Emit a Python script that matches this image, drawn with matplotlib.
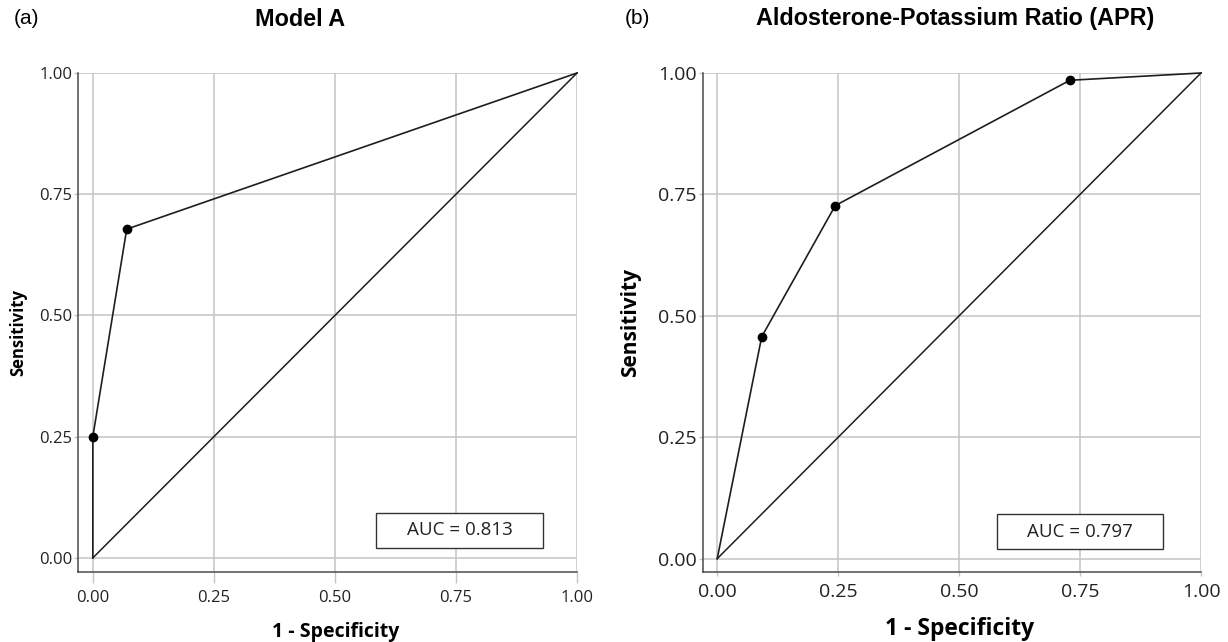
import matplotlib
matplotlib.use("Agg")
import matplotlib.pyplot as plt
from matplotlib.patches import Rectangle

# ---- data ----
fpr_a = [0.0, 0.0, 0.070, 1.0]
tpr_a = [0.0, 0.25, 0.678, 1.0]
mark_a_x = [0.0, 0.070]
mark_a_y = [0.25, 0.678]
auc_a = "AUC = 0.813"

fpr_b = [0.0, 0.092, 0.244, 0.729, 1.0]
tpr_b = [0.0, 0.457, 0.727, 0.985, 1.0]
mark_b_x = [0.092, 0.244, 0.729]
mark_b_y = [0.457, 0.727, 0.985]
auc_b = "AUC = 0.797"

ticks = [0.0, 0.25, 0.50, 0.75, 1.0]
tick_labels = ["0.00", "0.25", "0.50", "0.75", "1.00"]

W, H = 1228, 642
fig = plt.figure(figsize=(W / 100, H / 100), dpi=100)
fig.patch.set_facecolor("white")

def px_axes(l, r, t, b):
    return fig.add_axes([l / W, 1 - b / H, (r - l) / W, (b - t) / H])

GRID = "#c4c4c4"
SPINE = "#4a4a4a"
LINE = "#1e1e1e"

def setup(ax, fpr, tpr, mx, my, auc, box, tick_fs, xlab_fs, ylab_fs, auc_fs,
          ylab_xy, xlab_xy, xtick_len, xpad):
    ax.set_xlim(-0.030, 1.0)
    ax.set_ylim(-0.028, 1.0)
    ax.set_xticks(ticks)
    ax.set_yticks(ticks)
    ax.set_xticklabels(tick_labels, family="Open Sans", fontsize=tick_fs, color="#222222")
    ax.set_yticklabels(tick_labels, family="Open Sans", fontsize=tick_fs, color="#222222")
    ax.grid(True, color=GRID, linewidth=1.1)
    ax.set_axisbelow(True)
    for s in ["top", "right"]:
        ax.spines[s].set_visible(False)
    for s in ["left", "bottom"]:
        ax.spines[s].set_color(SPINE)
        ax.spines[s].set_linewidth(1.1)
    ax.tick_params(axis="x", length=xtick_len, width=1.0, color=GRID, pad=xpad)
    ax.tick_params(axis="y", length=3, width=1.0, color=GRID, pad=1.5)
    ax.plot([0, 1], [0, 1], color=LINE, linewidth=1.1, clip_on=False, zorder=3)
    ax.plot(fpr, tpr, color=LINE, linewidth=1.2, clip_on=False, zorder=4)
    ax.plot(mx, my, "o", color="black", markersize=6, clip_on=False, zorder=5)
    x0, x1, y0, y1 = box
    ax.add_patch(Rectangle((x0, y0), x1 - x0, y1 - y0, fill=True, facecolor="white",
                           edgecolor="#333333", linewidth=1.0, zorder=6))
    ax.text((x0 + x1) / 2, (y0 + y1) / 2, auc, ha="center", va="center",
            family="Open Sans", fontsize=auc_fs, color="#222222", zorder=7)
    ax.set_xlabel("1 - Specificity", family="Open Sans", fontweight="bold", fontsize=xlab_fs)
    ax.set_ylabel("Sensitivity", family="Open Sans", fontweight="bold", fontsize=ylab_fs)
    ax.xaxis.set_label_coords(*xlab_xy)
    ax.yaxis.set_label_coords(*ylab_xy)
    ax.xaxis.label.set_va("center")
    ax.yaxis.label.set_va("center")

ax1 = px_axes(78.3, 577, 73, 571.5)
setup(ax1, fpr_a, tpr_a, mark_a_x, mark_a_y, auc_a, (0.585, 0.930, 0.021, 0.093),
      12, 14, 12, 13.5, (-0.121, 0.48), (0.517, -0.121), 8, 5)

ax2 = px_axes(702.7, 1201, 73, 572.3)
setup(ax2, fpr_b, tpr_b, mark_b_x, mark_b_y, auc_b, (0.579, 0.921, 0.019, 0.093),
      14, 16.5, 15, 13.5, (-0.144, 0.50), (0.516, -0.114), 3, 5)

fig.text(14 / W, 1 - 19 / H, "(a)", family="Liberation Sans", fontsize=15, va="center", ha="left")
fig.text(300 / W, 1 - 19 / H, "Model A", family="Liberation Sans", fontweight="bold",
         fontsize=16.8, va="center", ha="center")
fig.text(625 / W, 1 - 19 / H, "(b)", family="Liberation Sans", fontsize=15, va="center", ha="left")
fig.text(955 / W, 1 - 19 / H, "Aldosterone-Potassium Ratio (APR)", family="Liberation Sans",
         fontweight="bold", fontsize=16.8, va="center", ha="center")

fig.savefig("out.png", dpi=100, facecolor="white")
